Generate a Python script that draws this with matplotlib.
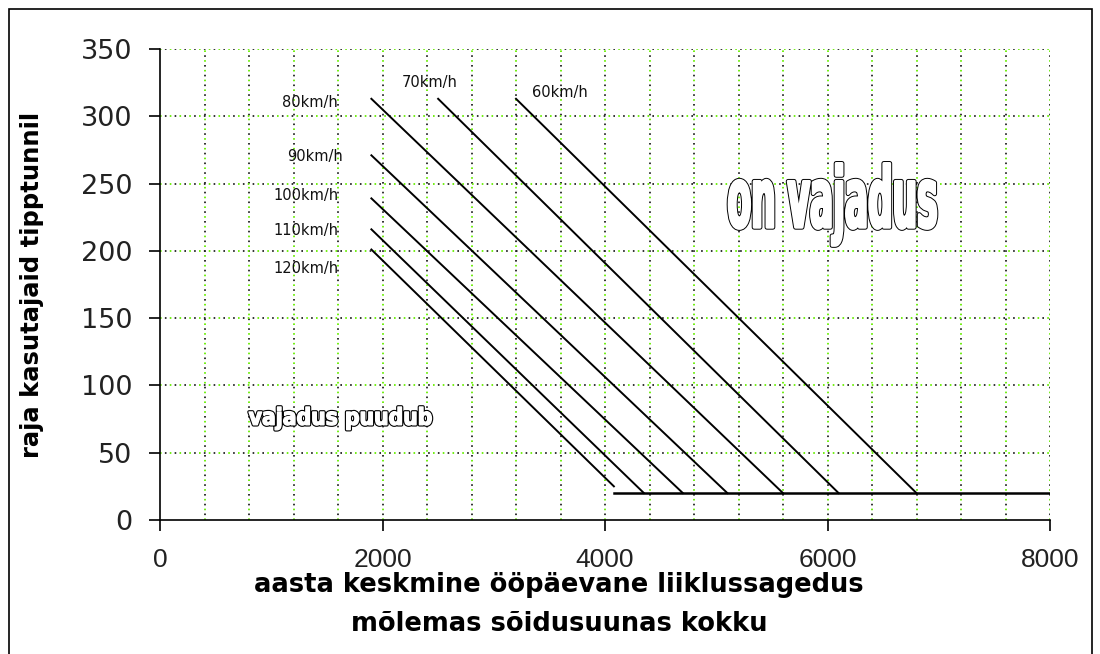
import numpy as np
import matplotlib
matplotlib.use("Agg")
import matplotlib.pyplot as plt
from matplotlib.textpath import TextPath
from matplotlib.font_manager import FontProperties
from matplotlib.patches import PathPatch, Rectangle
from matplotlib.transforms import Affine2D

# data
speeds = ['60km/h', '70km/h', '80km/h', '90km/h', '100km/h', '110km/h', '120km/h']
x_start = [3200, 2500, 1900, 1900, 1900, 1900, 1900]
y_start = [313, 313, 313, 271, 239, 216, 201]
x_end = [6800, 6100, 5600, 5100, 4700, 4350, 4080]
y_end = [20, 20, 20, 20, 20, 20, 25]
base_x = [4080, 8000]
base_y = [20, 20]

x_ticks = [0, 2000, 4000, 6000, 8000]
y_ticks = [0, 50, 100, 150, 200, 250, 300, 350]

plt.rcParams['font.family'] = ['Liberation Sans', 'DejaVu Sans']

fig = plt.figure(figsize=(11, 6.54), dpi=100)
ax = fig.add_axes([160/1100, 134/654, 890/1100, 471/654])
ax.set_xlim(0, 8000)
ax.set_ylim(0, 350)

# dotted two-colour grid
green = '#66ee00'
for gx in np.arange(400, 8001, 400):
    ax.plot([gx, gx], [0, 350], color=green, lw=1.3, ls=(0, (0.9, 4.5)), zorder=1)
    ax.plot([gx, gx], [0, 350], color='#222222', lw=1.3, ls=(2.7, (0.9, 4.5)), zorder=1)
for gy in np.arange(50, 351, 50):
    ax.plot([0, 8000], [gy, gy], color=green, lw=1.3, ls=(0, (0.9, 4.5)), zorder=1)
    ax.plot([0, 8000], [gy, gy], color='#222222', lw=1.3, ls=(2.7, (0.9, 4.5)), zorder=1)

# speed lines
for i in range(len(speeds)):
    ax.plot([x_start[i], x_end[i]], [y_start[i], y_end[i]], color='black', lw=1.4, zorder=3)
ax.plot(base_x, base_y, color='black', lw=1.8, zorder=3)

# speed labels
lab_x = [3348, 2172, 1598, 1643, 1607, 1607, 1607]
lab_y = [318, 325, 310, 270, 241, 215, 187]
lab_ha = ['left', 'left', 'right', 'right', 'right', 'right', 'right']
for i in range(len(speeds)):
    ax.text(lab_x[i], lab_y[i], speeds[i], fontsize=10.5, family='DejaVu Sans',
            ha=lab_ha[i], va='center', color='#111111')


def outline_text(s, x0, x1, y0, y1, prop, inner, outer):
    # fit the glyph outlines into a box, then thicken them: black rim + white body
    tp = TextPath((0, 0), s, prop=prop, size=10)
    ext = tp.get_extents()
    tr = Affine2D().translate(-ext.x0, -ext.y0).scale((x1 - x0) / ext.width, (y1 - y0) / ext.height).translate(x0, y0)
    path = tr.transform_path(tp)
    ax.add_patch(PathPatch(path, facecolor='black', edgecolor='black', lw=outer, joinstyle='round', zorder=5))
    ax.add_patch(PathPatch(path, facecolor='white', edgecolor='white', lw=inner, joinstyle='round', zorder=6))


outline_text('on vajadus', 5115, 6975, 204, 265,
             FontProperties(family='DejaVu Sans', weight='bold', stretch='condensed'), 2.0, 3.4)
outline_text('vajadus puudub', 800, 2440, 67, 84,
             FontProperties(family='DejaVu Sans', weight='bold'), 1.0, 2.6)

# axes styling
ax.spines['top'].set_visible(False)
ax.spines['right'].set_visible(False)
ax.spines['left'].set_linewidth(1.2)
ax.spines['bottom'].set_linewidth(1.2)
ax.set_xticks(x_ticks)
ax.set_yticks(y_ticks)
ax.tick_params(axis='x', length=8, width=1.2, pad=12, labelsize=19, labelcolor='#222222')
ax.tick_params(axis='y', length=8, width=1.2, pad=12, labelcolor='#222222')
for lab in ax.get_yticklabels():
    lab.set_fontfamily('DejaVu Sans')
    lab.set_fontsize(19.5)

fig.text(32/1100, 1 - 285/654, 'raja kasutajaid tipptunnil', rotation=90, ha='center', va='center',
         fontsize=17.5, fontweight='bold', family='DejaVu Sans')
fig.text(559/1100, 1 - 585/654, 'aasta keskmine ööpäevane liiklussagedus', ha='center', va='center',
         fontsize=18.5, fontweight='bold', family='DejaVu Sans')
fig.text(559/1100, 1 - 624/654, 'mõlemas sõidusuunas kokku', ha='center', va='center',
         fontsize=18.5, fontweight='bold', family='DejaVu Sans')

# outer frame
fig.patches.append(Rectangle((9/1100, -0.01), 1083/1100, 1.01 - 9/654, transform=fig.transFigure,
                             fill=False, edgecolor='black', lw=1.2))

fig.savefig('out.png', dpi=100)
